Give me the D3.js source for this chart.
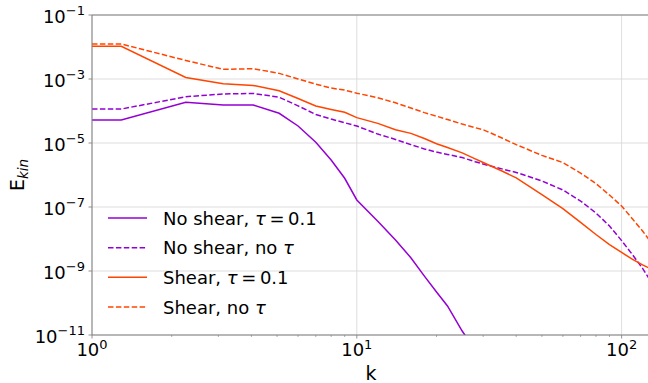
<!DOCTYPE html>
<html>
<head>
<meta charset="utf-8">
<script src="https://cdn.jsdelivr.net/npm/d3@7"></script>
<style>
  body { margin: 0; background: #fff; }
  text { font-family: "DejaVu Sans", sans-serif; fill: #000; }
</style>
</head>
<body>
<div id="chart"></div>
<script>
const kValues = [1, 1.29, 2.26, 3.13, 4.06, 5.09, 6, 7, 8, 9, 10, 12, 14, 16, 18, 20, 22, 25, 28, 30, 35, 40, 50, 60, 70, 80, 90, 100, 110, 120, 128];
const noShearTau = [5.2e-5, 5.2e-5, 1.87e-4, 1.54e-4, 1.54e-4, 8.5e-5, 3.4e-5, 1.05e-5, 2.95e-6, 7.9e-7, 1.66e-7, 3.6e-8, 9.3e-9, 2.6e-9, 6.9e-10, 2.2e-10, 8.1e-11, 1.33e-11, 3.4e-12,
    null, null, null, null, null, null, null, null, null, null, null, null];
const noShearNoTau = [1.15e-4, 1.15e-4, 2.8e-4, 3.4e-4, 3.55e-4, 2.7e-4, 1.45e-4, 7.8e-5, 5.6e-5, 4.3e-5, 3.4e-5, 1.9e-5, 1.29e-5, 8.9e-6, 6.5e-6, 5.2e-6, 4.4e-6, 3.5e-6, 2.6e-6,
    2.2e-6, 1.58e-6, 1.2e-6, 6.5e-7, 3.4e-7, 1.54e-7, 6.5e-8, 2.55e-8, 8.9e-9, 3.2e-9, 1.2e-9, 5.2e-10];
const shearTau = [1.05e-2, 1.05e-2, 1.12e-3, 7.1e-4, 6.3e-4, 4.3e-4, 2.45e-4, 1.44e-4, 1.12e-4, 9.1e-5, 6.2e-5, 4.1e-5, 2.6e-5, 2.0e-5, 1.38e-5, 9.5e-6, 7.2e-6, 4.9e-6, 3.2e-6,
    2.45e-6, 1.38e-6, 8.1e-7, 2.45e-7, 8.9e-8, 3.3e-8, 1.38e-8, 6.7e-9, 3.8e-9, 2.3e-9, 1.55e-9, 1.2e-9];
const shearNoTau = [1.24e-2, 1.24e-2, 3.8e-3, 2.0e-3, 2.1e-3, 1.5e-3, 1.0e-3, 6.9e-4, 5.2e-4, 4.5e-4, 3.6e-4, 2.6e-4, 1.8e-4, 1.24e-4, 8.9e-5, 6.9e-5, 5.4e-5, 3.9e-5, 3.0e-5,
    2.6e-5, 1.48e-5, 8.9e-6, 4.1e-6, 2.45e-6, 1.15e-6, 5.4e-7, 2.36e-7, 1.07e-7, 4.2e-8, 1.78e-8, 8.7e-9];

const seriesLabels = ["No shear, ", "No shear, ", "Shear, ", "Shear, "];
const seriesTail = ["\u2009=\u20090.1", "", "\u2009=\u20090.1", ""];
const seriesNo = ["", "no ", "", "no "];
const seriesColors = ["darkviolet", "darkviolet", "orangered", "orangered"];
const seriesDashed = [false, true, false, true];
const seriesValues = [noShearTau, noShearNoTau, shearTau, shearNoTau];

const xDomain = [1, 128];
const yDomain = [1e-11, 1e-1];
const xMajor = [1, 10, 100];
const yMajor = [1e-11, 1e-9, 1e-7, 1e-5, 1e-3, 1e-1];

const width = 648, height = 383;
const margin = { top: 15, right: -2, bottom: 48, left: 92 };
const innerWidth = width - margin.left - margin.right;
const innerHeight = height - margin.top - margin.bottom;

const svg = d3.select("#chart").append("svg")
    .attr("width", width)
    .attr("height", height);

svg.append("defs").append("clipPath").attr("id", "clip")
    .append("rect").attr("width", innerWidth).attr("height", innerHeight);

const graph = svg.append("g")
    .attr("transform", "translate(" + margin.left + "," + margin.top + ")");

const x = d3.scaleLog().domain(xDomain).range([0, innerWidth]);
const y = d3.scaleLog().domain(yDomain).range([innerHeight, 0]);

// grid
graph.selectAll(".xgrid").data(xMajor).enter().append("line")
    .attr("x1", d => x(d)).attr("x2", d => x(d))
    .attr("y1", 0).attr("y2", innerHeight)
    .attr("stroke", "#d9d9d9").attr("stroke-width", 0.9);
graph.selectAll(".ygrid").data(yMajor).enter().append("line")
    .attr("x1", 0).attr("x2", innerWidth)
    .attr("y1", d => y(d)).attr("y2", d => y(d))
    .attr("stroke", "#d9d9d9").attr("stroke-width", 0.9);

// lines
const line = d3.line()
    .defined(d => d[1] !== null)
    .x(d => x(d[0]))
    .y(d => y(d[1]));

const plot = graph.append("g").attr("clip-path", "url(#clip)");
seriesValues.forEach((vals, i) => {
    plot.append("path")
        .datum(kValues.map((k, j) => [k, vals[j]]))
        .attr("d", line)
        .attr("fill", "none")
        .attr("stroke", seriesColors[i])
        .attr("stroke-width", 1.5)
        .attr("stroke-dasharray", seriesDashed[i] ? "5.5,2.4" : null);
});

// x axis: major + minor ticks
const xAxis = graph.append("g").attr("transform", "translate(0," + innerHeight + ")");
const xMinor = [];
[1, 10, 100].forEach(dec => { for (let m = 2; m <= 9; m++) if (dec * m <= xDomain[1]) xMinor.push(dec * m); });
xAxis.selectAll(".minor").data(xMinor).enter().append("line")
    .attr("x1", d => x(d)).attr("x2", d => x(d))
    .attr("y1", 0).attr("y2", 2).attr("stroke", "#777").attr("stroke-width", 0.6);
xAxis.selectAll(".major").data(xMajor).enter().append("line")
    .attr("x1", d => x(d)).attr("x2", d => x(d))
    .attr("y1", 0).attr("y2", 3.5).attr("stroke", "#777").attr("stroke-width", 0.8);

// y axis ticks
const yAxis = graph.append("g");
yAxis.selectAll(".major").data(yMajor).enter().append("line")
    .attr("x1", -3.5).attr("x2", 0)
    .attr("y1", d => y(d)).attr("y2", d => y(d))
    .attr("stroke", "#777").attr("stroke-width", 0.8);

// tick labels in page coordinates: "10" with a raised exponent
const labels = svg.append("g");
function powerLabel(ax, ay, exp, anchor) {
    const t = labels.append("text").attr("y", ay).style("font-size", "18px");
    t.append("tspan").text("10");
    t.append("tspan").attr("dy", -7.5).style("font-size", "13px").text(exp);
    const w = t.node().getComputedTextLength();
    t.attr("x", anchor === "end" ? ax - w : ax - w / 2);
}
xMajor.forEach(d => powerLabel(margin.left + x(d), margin.top + innerHeight + 21, String(Math.round(Math.log10(d))), "middle"));
yMajor.forEach(d => powerLabel(margin.left - 7, margin.top + y(d) + 7.5, "\u2212" + Math.round(-Math.log10(d)), "end"));

// spines
graph.append("line").attr("x1", 0).attr("x2", 0).attr("y1", 0).attr("y2", innerHeight)
    .attr("stroke", "#808080").attr("stroke-width", 1);
graph.append("line").attr("x1", 0).attr("x2", innerWidth).attr("y1", innerHeight).attr("y2", innerHeight)
    .attr("stroke", "#808080").attr("stroke-width", 1);
graph.append("line").attr("x1", 0).attr("x2", innerWidth).attr("y1", 0).attr("y2", 0)
    .attr("stroke", "#808080").attr("stroke-width", 1);

// axis labels
svg.append("text")
    .attr("x", margin.left + innerWidth / 2).attr("y", 380)
    .attr("text-anchor", "middle")
    .style("font-size", "19px")
    .text("k");
const yTitle = svg.append("text")
    .attr("transform", "translate(24," + (margin.top + innerHeight / 2) + ") rotate(-90)")
    .attr("text-anchor", "middle")
    .style("font-size", "19px");
yTitle.append("tspan").text("E");
yTitle.append("tspan").attr("dy", 4).style("font-size", "13.5px").style("font-style", "italic").text("kin");

// legend
const legendY = d3.scalePoint().domain(d3.range(4)).range([218, 307]);
const legend = svg.append("g");
legend.selectAll("line").data(d3.range(4)).enter().append("line")
    .attr("x1", 108).attr("x2", 147)
    .attr("y1", i => legendY(i)).attr("y2", i => legendY(i))
    .attr("stroke", i => seriesColors[i])
    .attr("stroke-width", 1.5)
    .attr("stroke-dasharray", i => seriesDashed[i] ? "5.5,2.4" : null);
const legText = legend.selectAll("text").data(d3.range(4)).enter().append("text")
    .attr("x", 163).attr("y", i => legendY(i) + 6.5)
    .style("font-size", "18px");
legText.append("tspan").text(i => seriesLabels[i] + seriesNo[i]);
legText.append("tspan").style("font-style", "italic").text("\u03c4");
legText.append("tspan").text(i => seriesTail[i]);
</script>
</body>
</html>
